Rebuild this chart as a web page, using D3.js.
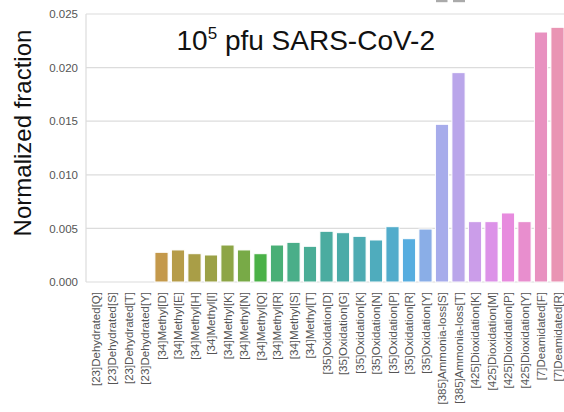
<!DOCTYPE html>
<html><head><meta charset="utf-8">
<script src="https://cdn.jsdelivr.net/npm/d3@7"></script>
<style>body{margin:0;background:#fff}svg{display:block}</style>
</head><body>
<svg id="c" width="564" height="412"></svg>
<script>
const categories = [
 "[23]Dehydrated[Q]","[23]Dehydrated[S]","[23]Dehydrated[T]","[23]Dehydrated[Y]",
 "[34]Methyl[D]","[34]Methyl[E]","[34]Methyl[H]","[34]Methyl[I]","[34]Methyl[K]",
 "[34]Methyl[N]","[34]Methyl[Q]","[34]Methyl[R]","[34]Methyl[S]","[34]Methyl[T]",
 "[35]Oxidation[D]","[35]Oxidation[G]","[35]Oxidation[K]","[35]Oxidation[N]",
 "[35]Oxidation[P]","[35]Oxidation[R]","[35]Oxidation[Y]",
 "[385]Ammonia-loss[S]","[385]Ammonia-loss[T]",
 "[425]Dioxidation[K]","[425]Dioxidation[M]","[425]Dioxidation[P]","[425]Dioxidation[Y]",
 "[7]Deamidated[F]","[7]Deamidated[R]"];
const values = [
 0,0,0,0,
 0.00277,0.00299,0.00264,0.00252,0.00345,0.00299,0.00264,0.00345,0.00370,0.00333,
 0.00473,0.00460,0.00426,0.00392,0.00516,0.00404,0.00494,
 0.01471,0.01953,
 0.00563,0.00563,0.00644,0.00563,
 0.02332,0.02376];
const yTicks = [0,0.005,0.010,0.015,0.020,0.025];

// --- seaborn husl palette (HSLuv) + desaturate ---
const M=[[3.2406,-1.5372,-0.4986],[-0.9689,1.8758,0.0415],[0.0557,-0.2040,1.0570]];
const refU=0.19784, refV=0.46834, labE=0.008856, labK=903.3;
function maxChroma(L,H){
  const hr=H/360*Math.PI*2, sH=Math.sin(hr), cH=Math.cos(hr);
  const sub1=Math.pow(L+16,3)/1560896;
  const sub2= sub1>labE? sub1 : L/labK;
  let res=Infinity;
  for(const [m1,m2,m3] of M){
    const top=(0.99915*m1+1.05122*m2+1.14460*m3)*sub2;
    const rb=0.86330*m3-0.17266*m2, lb=0.12949*m3-0.38848*m1;
    const bottom=(rb*sH+lb*cH)*sub2;
    for(const t of [0,1]){
      const C=L*(top-1.05122*t)/(bottom+0.17266*sH*t);
      if(C>0 && C<res) res=C;
    }
  }
  return res;
}
function fInv(t){ return Math.pow(t,3)>labE? Math.pow(t,3) : (116*t-16)/labK; }
function fromLinear(c){ return c<=0.0031308? 12.92*c : 1.055*Math.pow(c,1/2.4)-0.055; }
function huslToRgb(H,S,L){
  const C=maxChroma(L,H)/100*S;
  const hr=H/360*Math.PI*2;
  const U=C*Math.cos(hr), V=C*Math.sin(hr);
  const vY=fInv((L+16)/116), vU=U/(13*L)+refU, vV=V/(13*L)+refV;
  const Y=vY, X=0-(9*Y*vU)/((vU-4)*vV-vU*vV), Z=(9*Y-15*vV*Y-vV*X)/(3*vV);
  return M.map(r=>Math.min(1,Math.max(0,fromLinear(r[0]*X+r[1]*Y+r[2]*Z))));
}
function palette(n){
  const out=[];
  for(let i=0;i<n;i++){
    let h=(i/n+0.01)%1*359;
    const rgb=huslToRgb(h,0.9*99,0.7*99);
    const c=d3.hsl(d3.rgb(rgb[0]*255,rgb[1]*255,rgb[2]*255));
    c.s*=0.75;
    out.push(c.formatHex());
  }
  return out;
}
const colors = palette(categories.length);

const svg=d3.select("#c");
const x=d3.scaleBand().domain(categories).range([87.25,565.75]).paddingInner(0.2).paddingOuter(0.1);
const y=d3.scaleLinear().domain([0,0.025]).range([282,14]);

// top fragment (cropped element above plot)
svg.append("rect").attr("x",436).attr("y",0).attr("width",11.5).attr("height",2.2).attr("fill","#aaa");
svg.append("rect").attr("x",453).attr("y",0).attr("width",12).attr("height",2.2).attr("fill","#aaa");

// grid
svg.append("g").selectAll("line").data(yTicks).join("line")
  .attr("x1",86).attr("x2",564).attr("y1",d=>y(d)).attr("y2",d=>y(d))
  .attr("stroke","#dcdcdc").attr("stroke-width",1.2);
// left spine
svg.append("line").attr("x1",86).attr("x2",86).attr("y1",14).attr("y2",282)
  .attr("stroke","#dcdcdc").attr("stroke-width",1.2);

// bars
svg.append("g").selectAll("rect").data(categories).join("rect")
  .attr("x",d=>x(d)).attr("width",x.bandwidth())
  .attr("y",(d,i)=>y(values[i])).attr("height",(d,i)=>y(0)-y(values[i]))
  .attr("fill",(d,i)=>colors[i]).attr("stroke","#fff").attr("stroke-width",1)
  .attr("display",(d,i)=>values[i]>0?null:"none");

// y axis
const ya=svg.append("g").attr("transform","translate(86,0)")
  .call(d3.axisLeft(y).tickValues(yTicks).tickFormat(d3.format(".3f")).tickSize(0).tickPadding(8));
ya.select(".domain").remove();
ya.selectAll("text").attr("font-family","Liberation Sans, Arial, sans-serif").attr("font-size",11.5).attr("fill","#555");

// x axis
const xa=svg.append("g").attr("transform","translate(0,282)")
  .call(d3.axisBottom(x).tickSize(0).tickPadding(0));
xa.select(".domain").remove();
xa.selectAll("text").attr("font-family","Liberation Sans, Arial, sans-serif").attr("font-size",11.5).attr("fill","#555")
  .attr("transform","rotate(-90)").attr("text-anchor","end").attr("x",-10).attr("y",0).attr("dy","0.35em");

// y label
svg.append("text").attr("transform","translate(31,133) rotate(-90)").attr("text-anchor","middle")
  .attr("font-family","Liberation Sans, Arial, sans-serif").attr("font-size",24).attr("fill","#111")
  .text("Normalized fraction");

// title
const t=svg.append("text").attr("x",176.5).attr("y",49.5)
  .attr("font-family","Liberation Sans, Arial, sans-serif").attr("font-size",28).attr("fill","#111");
t.append("tspan").text("10");
t.append("tspan").attr("font-size",17).attr("dy",-10.5).text("5");
t.append("tspan").attr("dy",10.5).text(" pfu SARS-CoV-2");
</script>
</body></html>
